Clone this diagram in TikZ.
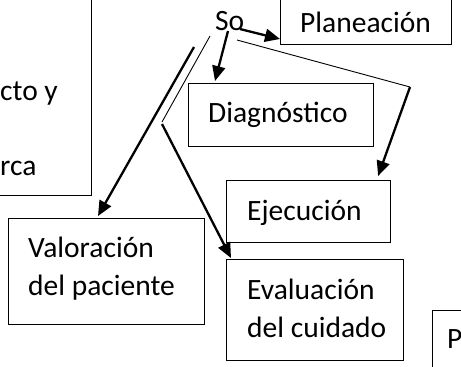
\documentclass[tikz,border=0pt]{standalone}
\usepackage{fontspec}
\setmainfont{Carlito}
\usetikzlibrary{arrows.meta}
\begin{document}
\begin{tikzpicture}[x=1bp,y=-1bp,
  box/.style={draw=black,line width=1.1bp,rectangle,inner sep=0pt},
  txt/.style={inner sep=0pt,font=\fontsize{29.5bp}{37bp}\selectfont},
  thin/.style={draw=black,line width=0.9bp},
  thick/.style={draw=black,line width=2.3bp},
  arr/.style={thick,-{Triangle[length=15bp,width=13bp]}}]
\useasboundingbox (0,0) rectangle (461,366);
\clip (0,0) rectangle (461,366);
% boxes
\node[box,minimum width=140bp,minimum height=230bp,anchor=south east] (left) at (92,196) {};
\node[box,minimum width=171bp,minimum height=60bp,anchor=south west] (plan) at (280,45) {};
\node[box,minimum width=185bp,minimum height=63bp,anchor=north west] (diag) at (188,83) {};
\node[box,minimum width=164bp,minimum height=62bp,anchor=north west] (ejec) at (226,180) {};
\node[box,minimum width=177bp,minimum height=101bp,anchor=north west] (eval) at (226,259) {};
\node[box,minimum width=196bp,minimum height=106bp,anchor=north west] (valor) at (8,218) {};
\node[box,minimum width=60bp,minimum height=80bp,anchor=north west] (pbox) at (432,310) {};
% texts
\node[txt,anchor=base west] (leftT1) at (0,100) {cto y};
\node[txt,anchor=base west] (leftT2) at (0,175) {rca};
\node[txt,anchor=base west] (so) at (215,30) {So};
\node[txt,anchor=base west] (planT) at (300,32) {Planeación};
\node[txt,anchor=base west] (diagT) at (208,122) {Diagnóstico};
\node[txt,anchor=base west] (ejecT) at (247,220) {Ejecución};
\node[txt,anchor=base west] (evalT1) at (247,299) {Evaluación};
\node[txt,anchor=base west] (evalT2) at (247,337) {del cuidado};
\node[txt,anchor=base west] (valorT1) at (28,257) {Valoración};
\node[txt,anchor=base west] (valorT2) at (28,295) {del paciente};
\node[txt,anchor=base west] (pT) at (447,348) {P};
% connector points
\coordinate (s1) at (240,29);
\coordinate (s2) at (228,31);
\coordinate (s3) at (237,40);
\coordinate (k3) at (410,87);
\coordinate (s4) at (210,36);
\coordinate (k4a) at (162,122);
\coordinate (k4b) at (162,124);
\coordinate (s5) at (194,47);
% connectors
\draw[arr] (s1) -- ([yshift=6bp]plan.south west);
\draw[arr] (s2) -- ([xshift=27bp,yshift=2bp]diag.north west);
\draw[thin] (s3) -- (k3);
\draw[arr] (k3) -- ([xshift=-13bp,yshift=4bp]ejec.north east);
\draw[thin] (s4) -- (k4a);
\draw[arr] (k4b) -- ([xshift=5bp,yshift=1bp]eval.north west);
\draw[arr] (s5) -- ([xshift=90bp,yshift=2bp]valor.north west);
\end{tikzpicture}
\end{document}
